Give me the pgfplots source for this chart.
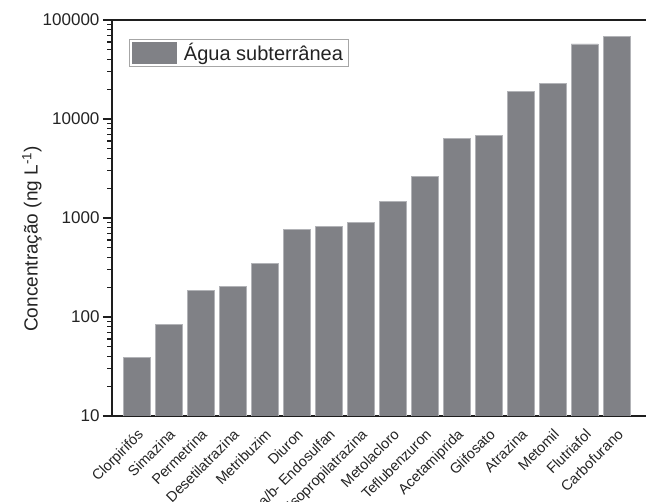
\documentclass[border=0pt]{standalone}
\usepackage{fontspec}
\setmainfont{Liberation Sans}
\usepackage{pgfplots}
\pgfplotsset{compat=1.18}
\definecolor{barfill}{RGB}{128,129,134}
\definecolor{baredge}{RGB}{178,179,183}
\definecolor{axcol}{RGB}{30,30,30}
\definecolor{txtcol}{RGB}{35,35,35}
\begin{document}
\begin{tikzpicture}
\useasboundingbox (-112pt,-86pt) rectangle (534pt,416pt);
\begin{axis}[
  at={(0,0)}, anchor=south west,
  scale only axis, width=534pt, height=396pt,
  ymode=log, log basis y=10, ymin=10, ymax=100000,
  xmin=-0.766, xmax=15.92,
  axis lines*=left,
  x axis line style={-, line width=1.6pt, axcol},
  y axis line style={-, line width=1.6pt, axcol},
  after end axis/.code={
    \draw[axcol, line width=1.6pt] (rel axis cs:0,1) -- (rel axis cs:1,1);
    \foreach \v in {20,30,40,50,60,70,80,90,200,300,400,500,600,700,800,900,2000,3000,4000,5000,6000,7000,8000,9000,20000,30000,40000,50000,60000,70000,80000,90000}
      {\draw[axcol, line width=1.3pt] (axis cs:-0.766,\v) -- ++(-5pt,0pt);}
  },
  ytick={10,100,1000,10000,100000},
  yticklabels={10,100,1000,10000,100000},
  minor ytick={},
  tick align=outside,
  major tick length=9pt,
  ytick style={axcol, line width=1.3pt},
  xtick=data,
  xtick style={draw=none},
  xticklabels={Clorpirifós,Simazina,Permetrina,Desetilatrazina,Metribuzim,Diuron,a/b- Endosulfan,Deisopropilatrazina,Metolacloro,Teflubenzuron,Acetamiprida,Glifosato,Atrazina,Metomil,Flutriafol,Carbofurano},
  x tick label style={rotate=45, anchor=north east, font=\fontsize{14.5}{16}\selectfont, text=txtcol, inner sep=2pt},
  y tick label style={font=\fontsize{17}{20}\selectfont, text=txtcol},
  /pgf/number format/assume math mode=true,
  ylabel={Concentração (ng L\textsuperscript{-1})},
  ylabel style={at={(axis description cs:-0.15,0.447)}, rotate=0, anchor=center, font=\fontsize{19}{22}\selectfont, text=txtcol},
  legend style={at={(axis description cs:0.032,0.952)}, anchor=north west, draw=gray!70, line width=0.6pt, inner xsep=3pt, inner ysep=2pt, font=\fontsize{20}{24}\selectfont, text=txtcol},
  legend cell align=left,
  ybar, bar width=27pt,
  legend image code/.code={\fill[barfill] (0pt,-10.5pt) rectangle (44pt,10.5pt); \path (49pt,0pt);},
]
\addplot[fill=barfill, draw=baredge, line width=0.6pt] table[x=x,y=y] {
x y
0 39
1 84
2 187
3 202
4 348
5 774
6 817
7 904
8 1462
9 2612
10 6324
11 6840
12 19050
13 22760
14 57300
15 68400
};
\addlegendentry{Água subterrânea}
\end{axis}
\end{tikzpicture}
\end{document}
